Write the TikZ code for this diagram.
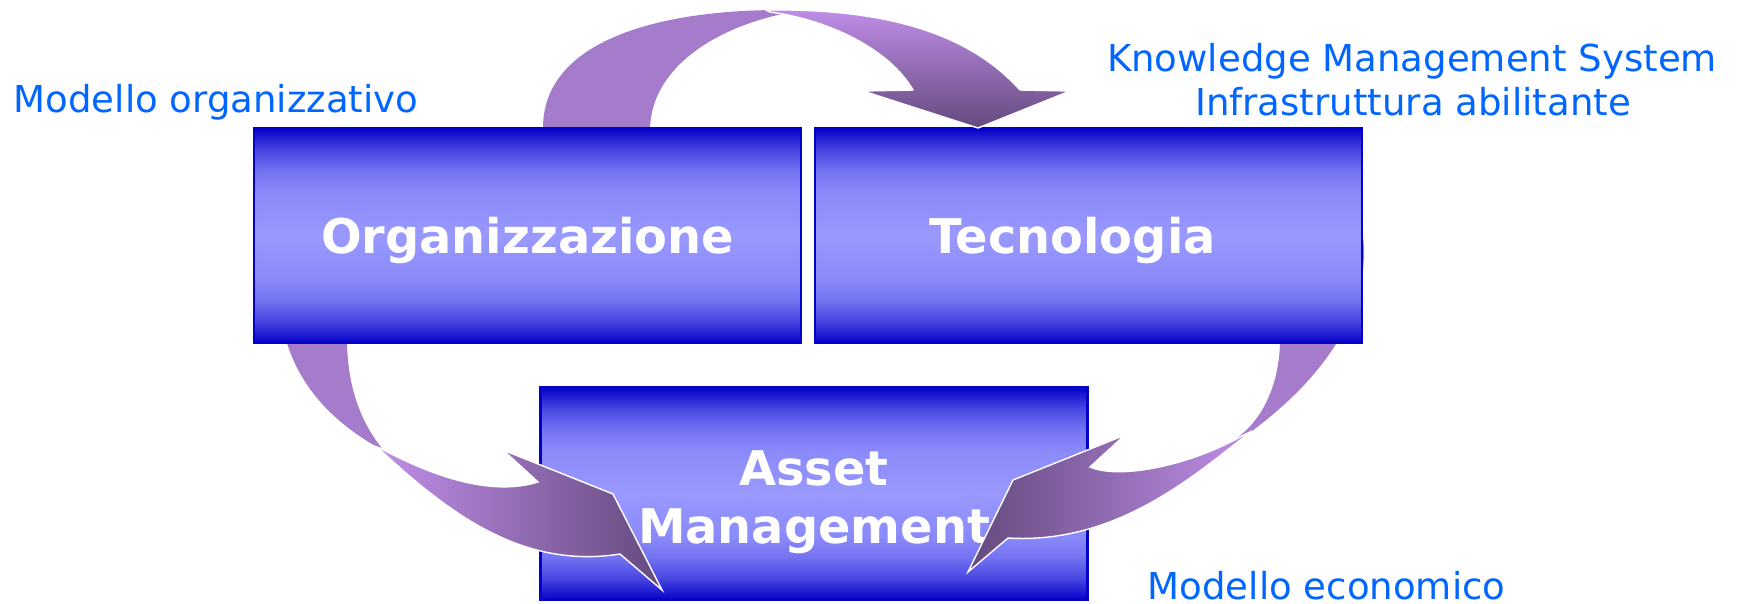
\documentclass[tikz,border=0pt]{standalone}
\usepackage{fontspec}
\usetikzlibrary{positioning}
\newfontfamily\dvs{DejaVu Sans}
\definecolor{boxdark}{RGB}{5,0,200}
\definecolor{boxlight}{RGB}{153,153,255}
\definecolor{bandback}{RGB}{165,124,203}
\definecolor{arrlight}{RGB}{192,142,232}
\definecolor{arrdark}{RGB}{100,74,126}
\definecolor{lblblue}{RGB}{0,102,255}
\pgfdeclareverticalshading{boxshade}{100bp}{color(0bp)=(boxdark); color(25bp)=(boxdark);
  color(30bp)=(boxdark!55!boxlight); color(35bp)=(boxdark!25!boxlight); color(40bp)=(boxdark!10!boxlight);
  color(50bp)=(boxlight); color(60bp)=(boxdark!10!boxlight); color(65bp)=(boxdark!25!boxlight);
  color(70bp)=(boxdark!55!boxlight); color(75bp)=(boxdark); color(100bp)=(boxdark)}
\begin{document}
\begin{tikzpicture}[x=1cm,y=-1cm,
  box/.style={draw=boxdark,line width=0.6pt,shading=boxshade,
    minimum width=5.47cm,minimum height=2.15cm,inner sep=0pt,text=white,
    font=\dvs\bfseries\fontsize{13.6}{16.4}\selectfont},
  onebox/.style={box,text height=0.35cm,text depth=0pt},
  back/.style={fill=bandback},
  front/.style={draw=white,line width=0.4pt},
  lbl/.style={inner sep=0pt,text=lblblue,font=\dvs\fontsize{10.55}{12.5}\selectfont}]
\useasboundingbox (0,0) rectangle (17.37,6.03);

% back halves of the arrows
\fill[back] (5.43,1.50) -- (5.43,1.28) .. controls (5.43,0.40) and (6.60,0.10) .. (7.80,0.10)
  -- (7.82,0.14) .. controls (7.10,0.30) and (6.52,0.70) .. (6.50,1.28) -- (6.50,1.50) -- cycle;
\fill[back] (2.75,3.00) -- (2.87,3.43) .. controls (3.00,3.85) and (3.30,4.20) .. (3.77,4.47)
  -- (3.85,4.52) .. controls (3.62,4.25) and (3.48,3.90) .. (3.47,3.43) -- (3.47,3.00) -- cycle;
\fill[back] (12.80,2.05) -- (12.80,3.43) .. controls (12.79,3.85) and (12.62,4.20) .. (12.38,4.37)
  -- (12.52,4.31) .. controls (13.20,3.80) and (13.64,3.20) .. (13.64,2.52)
  .. controls (13.64,2.35) and (13.60,2.22) .. (13.55,2.05) -- cycle;

% boxes
\node[onebox] (org) at (5.275,2.355) {Organizzazione};
\node[onebox,right=0.12cm of org] (tec) {Tecnologia\hspace*{0.32cm}};
\node[box,align=center,minimum height=2.13cm] (asset) at (8.14,4.935) {\rule{0pt}{0.52cm}Asset\\Management};

% front halves
\shade[front,top color=arrlight,bottom color=arrdark] (7.66,0.10) .. controls (9.00,0.08) and (9.75,0.40) .. (10.20,0.90)
  -- (10.70,0.91) -- (9.78,1.28) -- (8.63,0.91) -- (9.13,0.90) .. controls (8.90,0.50) and (8.30,0.20) .. (7.70,0.12) -- cycle;
\shade[front,left color=arrlight,right color=arrdark] (3.77,4.47) .. controls (4.45,5.10) and (5.20,5.70) .. (6.20,5.54)
  -- (6.62,5.90) -- (6.13,4.94) -- (5.03,4.50) -- (5.38,4.82) .. controls (4.90,4.97) and (4.30,4.75) .. (3.80,4.48) -- cycle;
\shade[front,left color=arrdark,right color=arrlight] (12.52,4.31) .. controls (12.00,4.70) and (11.20,5.45) .. (10.08,5.38)
  -- (9.68,5.72) -- (10.13,4.80) -- (11.25,4.35) -- (10.90,4.67) .. controls (11.20,4.80) and (11.90,4.65) .. (12.40,4.37) -- cycle;

% labels
\node[lbl,anchor=base west] (orglbl) at (0.13,1.12) {Modello organizzativo};
\node[lbl,anchor=base] (kmslbl) at (14.12,0.71) {Knowledge Management System};
\node[lbl,anchor=base] (infralbl) at (14.13,1.15) {Infrastruttura abilitante};
\node[lbl,anchor=base west] (ecolbl) at (11.47,5.99) {Modello economico};
\end{tikzpicture}
\end{document}
